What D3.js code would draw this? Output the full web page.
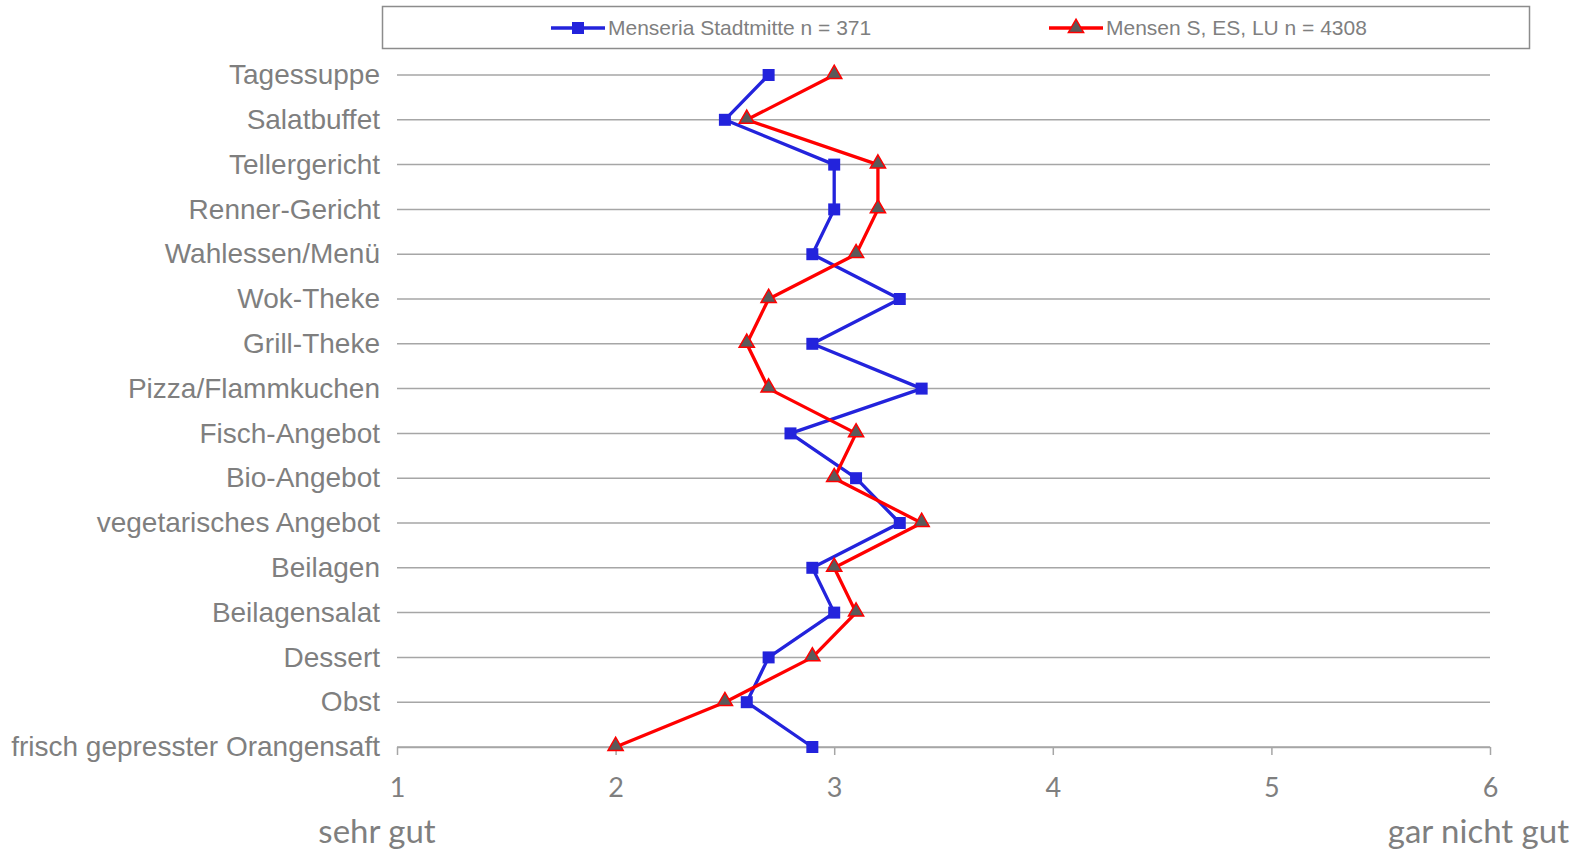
<!DOCTYPE html>
<html>
<head>
<meta charset="utf-8">
<script src="https://cdn.jsdelivr.net/npm/d3@7"></script>
<style>
  html, body { margin: 0; padding: 0; background: #ffffff; }
  svg { display: block; }
</style>
</head>
<body>
<svg id="chart" width="1587" height="849"></svg>
<script>
// Rated items (top to bottom)
const categories = [
  "Tagessuppe", "Salatbuffet", "Tellergericht", "Renner-Gericht",
  "Wahlessen/Menü", "Wok-Theke", "Grill-Theke", "Pizza/Flammkuchen",
  "Fisch-Angebot", "Bio-Angebot", "vegetarisches Angebot", "Beilagen",
  "Beilagensalat", "Dessert", "Obst", "frisch gepresster Orangensaft"
];

// Mean ratings (1 = sehr gut ... 6 = gar nicht gut)
const stadtmitte = [2.7, 2.5, 3.0, 3.0, 2.9, 3.3, 2.9, 3.4, 2.8, 3.1, 3.3, 2.9, 3.0, 2.7, 2.6, 2.9];
const mensenSESLU = [3.0, 2.6, 3.2, 3.2, 3.1, 2.7, 2.6, 2.7, 3.1, 3.0, 3.4, 3.0, 3.1, 2.9, 2.5, 2.0];

const seriesNames = ["Menseria Stadtmitte n = 371", "Mensen S, ES, LU n = 4308"];
const xTicks = [1, 2, 3, 4, 5, 6];
const scaleEnds = ["sehr gut", "gar nicht gut"];

const svg = d3.select("#chart");
const grey = "#7f7f7f";
const gridColor = "#a6a6a6";
const blue = "#2323dc";
const red = "#ff0000";

const x = d3.scaleLinear().domain([1, 6]).range([397, 1490]);
const y = d3.scalePoint().domain(categories).range([75, 747]);

// horizontal grid lines, one per item
svg.append("g").selectAll("line")
  .data(categories)
  .join("line")
  .attr("x1", x(1)).attr("x2", x(6))
  .attr("y1", d => y(d)).attr("y2", d => y(d))
  .attr("stroke", gridColor).attr("stroke-width", 1.5);

// bottom axis with tick marks
const xAxis = svg.append("g")
  .attr("transform", `translate(0,${y(categories[categories.length - 1])})`)
  .call(d3.axisBottom(x).tickValues(xTicks).tickFormat(d3.format("d"))
    .tickSize(8).tickSizeOuter(0).tickPadding(23));
xAxis.select(".domain").attr("stroke", gridColor).attr("stroke-width", 1.5);
xAxis.selectAll(".tick line").attr("stroke", gridColor).attr("stroke-width", 1.5);
xAxis.selectAll(".tick text")
  .attr("fill", grey)
  .style("font-family", "Lato, 'Open Sans', sans-serif")
  .style("font-size", "27px");

// scale end descriptions
const endStyle = sel => sel
  .attr("fill", grey)
  .style("font-family", "Lato, 'Open Sans', sans-serif")
  .style("font-size", "33px");
svg.append("text")
  .attr("x", 377).attr("y", 843)
  .attr("text-anchor", "middle")
  .call(endStyle)
  .text(scaleEnds[0]);
svg.append("text")
  .attr("x", 1569).attr("y", 843)
  .attr("text-anchor", "end")
  .call(endStyle)
  .text(scaleEnds[1]);

// item labels
svg.append("g").selectAll("text")
  .data(categories)
  .join("text")
  .attr("x", 380)
  .attr("y", d => y(d))
  .attr("dy", "0.33em")
  .attr("text-anchor", "end")
  .attr("fill", grey)
  .style("font-family", "'Liberation Sans', Arial, sans-serif")
  .style("font-size", "28px")
  .text(d => d);

const line = d3.line()
  .x(d => x(d.v))
  .y(d => y(d.c));

function toPoints(values) {
  return values.map((v, i) => ({ c: categories[i], v }));
}

const squareSym = d3.symbol().type(d3.symbolSquare).size(144);
const triSym = d3.symbol().type(d3.symbolTriangle).size(100);

// series 1: Menseria Stadtmitte
const p1 = toPoints(stadtmitte);
svg.append("path")
  .datum(p1)
  .attr("d", line)
  .attr("fill", "none")
  .attr("stroke", blue)
  .attr("stroke-width", 3.3)
  .attr("stroke-linejoin", "round");

// series 2: Mensen S, ES, LU
const p2 = toPoints(mensenSESLU);
svg.append("path")
  .datum(p2)
  .attr("d", line)
  .attr("fill", "none")
  .attr("stroke", red)
  .attr("stroke-width", 3.3)
  .attr("stroke-linejoin", "round");

svg.append("g").selectAll("path")
  .data(p1)
  .join("path")
  .attr("d", squareSym)
  .attr("transform", d => `translate(${x(d.v)},${y(d.c)})`)
  .attr("fill", blue);

svg.append("g").selectAll("path")
  .data(p2)
  .join("path")
  .attr("d", triSym)
  .attr("transform", d => `translate(${x(d.v)},${y(d.c) - 1})`)
  .attr("fill", "#5a5a5a")
  .attr("stroke", red)
  .attr("stroke-width", 1.5);

// legend
const legend = svg.append("g");
legend.append("rect")
  .attr("x", 382.5).attr("y", 6.5)
  .attr("width", 1147).attr("height", 42)
  .attr("fill", "#ffffff")
  .attr("stroke", "#8c8c8c")
  .attr("stroke-width", 1.5);

const legendItems = [
  { name: seriesNames[0], color: blue, x0: 551, sym: squareSym, fill: blue, stroke: "none" },
  { name: seriesNames[1], color: red, x0: 1049, sym: triSym, fill: "#5a5a5a", stroke: red }
];
const ly = 28;
legendItems.forEach(it => {
  legend.append("line")
    .attr("x1", it.x0).attr("x2", it.x0 + 54)
    .attr("y1", ly).attr("y2", ly)
    .attr("stroke", it.color).attr("stroke-width", 3.3);
  legend.append("path")
    .attr("d", it.sym)
    .attr("transform", `translate(${it.x0 + 27},${ly})`)
    .attr("fill", it.fill)
    .attr("stroke", it.stroke)
    .attr("stroke-width", 1.5);
  legend.append("text")
    .attr("x", it.x0 + 57).attr("y", ly)
    .attr("dy", "0.35em")
    .attr("fill", grey)
    .style("font-family", "'Liberation Sans', Arial, sans-serif")
    .style("font-size", "21px")
    .text(it.name);
});
</script>
</body>
</html>
